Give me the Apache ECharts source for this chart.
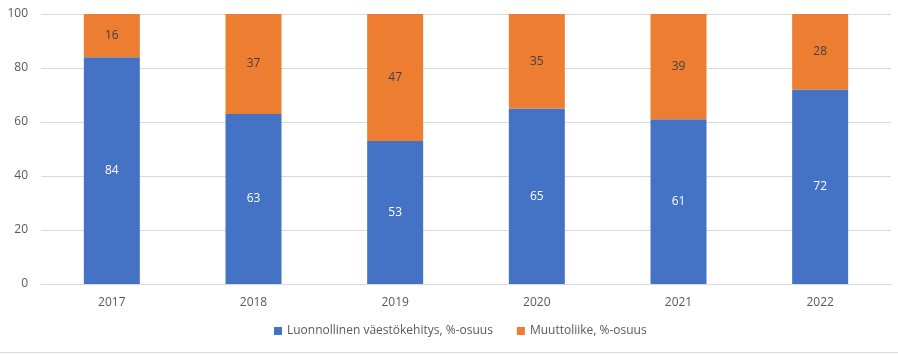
<!DOCTYPE html>
<html><head><meta charset="utf-8">
<script src="https://cdn.jsdelivr.net/npm/echarts@6/dist/echarts.min.js"></script>
<style>html,body{margin:0;padding:0;background:#fff}#c{width:898px;height:354px}</style>
</head><body><div id="c"></div>
<script>
const years = ['2017','2018','2019','2020','2021','2022'];
const luonnollinen = [84, 63, 53, 65, 61, 72];
const muuttoliike = [16, 37, 47, 35, 39, 28];
const seriesNames = ['Luonnollinen väestökehitys, %-osuus', 'Muuttoliike, %-osuus'];
const yTicks = {min: 0, max: 100, interval: 20};

const chart = echarts.init(document.getElementById('c'));
const font = 'Open Sans, Noto Sans, sans-serif';
chart.setOption({
  animation: false,
  textStyle: {fontFamily: font},
  grid: {left: 41, right: 7, top: 14, bottom: 70},
  xAxis: {
    type: 'category', data: years,
    axisLine: {lineStyle: {color: '#d9d9d9'}},
    axisTick: {show: false},
    axisLabel: {color: '#595959', fontSize: 12, margin: 13, fontFamily: font}
  },
  yAxis: {
    type: 'value', min: yTicks.min, max: yTicks.max, interval: yTicks.interval,
    axisLine: {show: false}, axisTick: {show: false},
    splitLine: {lineStyle: {color: '#d9d9d9'}},
    axisLabel: {color: '#595959', fontSize: 12, margin: 13, fontFamily: font}
  },
  legend: {
    bottom: 12, left: 269, itemWidth: 8, itemHeight: 8, itemGap: 24,
    icon: 'rect',
    textStyle: {color: '#595959', fontSize: 12, fontFamily: font},
    data: seriesNames
  },
  series: [
    {name: seriesNames[0], type: 'bar', stack: 't', data: luonnollinen, barWidth: 56,
     itemStyle: {color: '#4472c4'},
     label: {show: true, position: 'inside', color: '#ffffff', fontSize: 12, fontFamily: font}},
    {name: seriesNames[1], type: 'bar', stack: 't', data: muuttoliike, barWidth: 56,
     itemStyle: {color: '#ed7d31'},
     label: {show: true, position: 'inside', color: '#404040', fontSize: 12, fontFamily: font}}
  ],
  graphic: [{type: 'line', shape: {x1: 0, y1: 352.5, x2: 898, y2: 352.5}, style: {stroke: '#d9d9d9', lineWidth: 1}}]
});
</script></body></html>
